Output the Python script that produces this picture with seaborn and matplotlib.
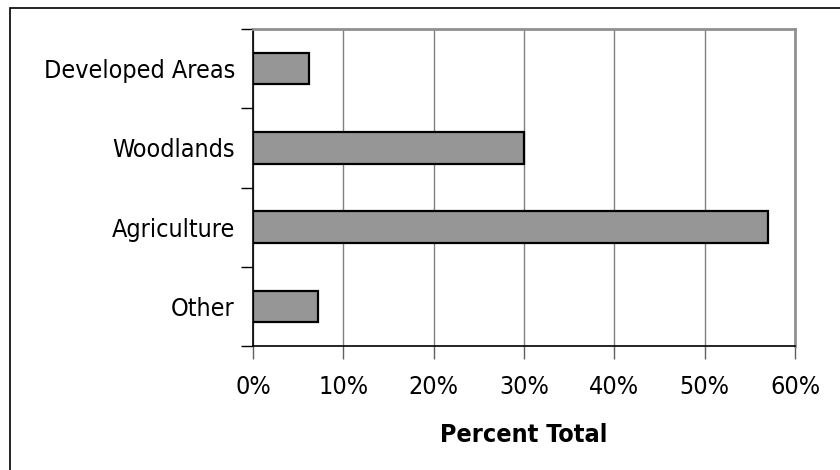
import matplotlib
matplotlib.use("Agg")
import matplotlib.pyplot as plt
import numpy as np
import pandas as pd
import seaborn as sns
from matplotlib.patches import Rectangle
from matplotlib.ticker import FixedLocator, PercentFormatter

categories = ["Developed Areas", "Woodlands", "Agriculture", "Other"]
percent_total = [6.2, 30.0, 57.0, 7.2]
x_ticks = [0, 10, 20, 30, 40, 50, 60]

df = pd.DataFrame({"category": categories, "percent": percent_total})

sns.set_theme(style="white")
plt.rcParams["font.family"] = ["DejaVu Sans"]
plt.rcParams["font.stretch"] = "condensed"
plt.rcParams["text.color"] = "black"
plt.rcParams["axes.labelcolor"] = "black"
plt.rcParams["xtick.labelcolor"] = "black"
plt.rcParams["ytick.labelcolor"] = "black"

fig = plt.figure(figsize=(8.4, 4.7), dpi=100)
ax = fig.add_axes([253 / 840, 1 - 346 / 470, (795 - 253) / 840, (346 - 29) / 470])

sns.barplot(data=df, y="category", x="percent", orient="h", order=categories,
            color="#969696", edgecolor="black", linewidth=1.6, width=0.4,
            saturation=1, ax=ax, zorder=3)

ax.set_xlim(0, 60)
ax.set_ylim(3.5, -0.5)
ax.set_xticks(x_ticks)
ax.xaxis.set_major_formatter(PercentFormatter(decimals=0))
ax.grid(axis="x", color="#808080", linewidth=1.0, zorder=0)
ax.grid(axis="y", visible=False)

ax.set_xlabel("Percent Total", fontsize=18, fontweight="bold", labelpad=17)
ax.set_ylabel("")

# category ticks sit between bars
ax.yaxis.set_minor_locator(FixedLocator(np.arange(-0.5, len(categories), 1.0)))
ax.tick_params(axis="y", which="major", length=0, pad=13, labelsize=18)
ax.tick_params(axis="y", which="minor", left=True, length=9, width=1, color="black")
ax.tick_params(axis="x", which="major", bottom=True, length=9, width=1,
               color="#606060", pad=12, labelsize=18)

for side in ["left", "bottom"]:
    ax.spines[side].set_color("black")
    ax.spines[side].set_linewidth(1.2)
for side in ["top", "right"]:
    ax.spines[side].set_visible(True)
    ax.spines[side].set_color("#909090")
    ax.spines[side].set_linewidth(2.0)

# outer chart frame
fig.patches.append(Rectangle((10 / 840, -0.1), 1.2, 1 - 8 / 470 + 0.1,
                             transform=fig.transFigure, fill=False,
                             edgecolor="black", linewidth=1.2))

fig.savefig("out.png", dpi=100)
